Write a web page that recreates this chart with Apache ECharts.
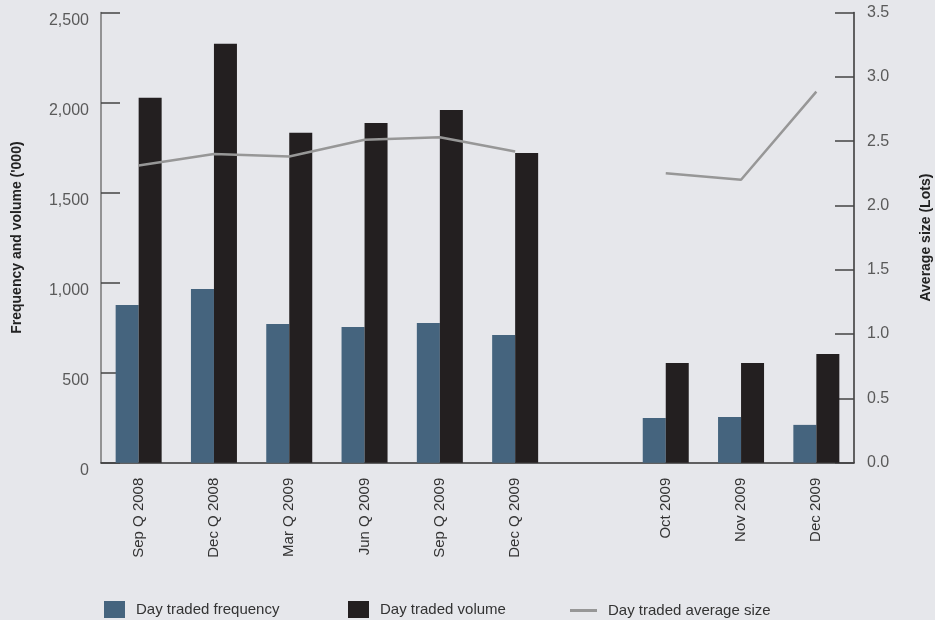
<!DOCTYPE html>
<html>
<head>
<meta charset="utf-8">
<script src="https://cdn.jsdelivr.net/npm/echarts@6/dist/echarts.min.js"></script>
<style>
  html, body { margin: 0; padding: 0; background: #e6e7eb; }
  #chart { width: 935px; height: 620px; }
</style>
</head>
<body>
<div id="chart"></div>
<script>
// Periods: six quarters, a spacer, then three months
const categories = ['Sep Q 2008', 'Dec Q 2008', 'Mar Q 2009', 'Jun Q 2009', 'Sep Q 2009', 'Dec Q 2009', '', 'Oct 2009', 'Nov 2009', 'Dec 2009'];
// Day traded frequency ('000)
const frequency = [876, 965, 770, 754, 776, 709, null, 248, 254, 210];
// Day traded volume ('000)
const volume = [2026, 2326, 1832, 1887, 1959, 1720, null, 554, 554, 604];
// Day traded average size (lots)
const avgSize = [2.31, 2.40, 2.38, 2.51, 2.53, 2.42, null, 2.25, 2.20, 2.885];

const FONT = "'Liberation Sans', Arial, sans-serif";
const chart = echarts.init(document.getElementById('chart'));

const legendBase = {
  bottom: 2,
  padding: 0,
  textStyle: { fontFamily: FONT, fontSize: 15, color: '#333', padding: [0, 0, 0, 6] },
  selectedMode: false
};

chart.setOption({
  backgroundColor: '#e6e7eb',
  animation: false,
  textStyle: { fontFamily: FONT },
  grid: { left: 101, right: 81, top: 12.5, bottom: 157.3, containLabel: false, outerBoundsMode: 'none' },
  legend: [
    Object.assign({}, legendBase, { left: 104, data: ['Day traded frequency'], icon: 'rect', itemWidth: 21, itemHeight: 17 }),
    Object.assign({}, legendBase, { left: 348, data: ['Day traded volume'], icon: 'rect', itemWidth: 21, itemHeight: 17 }),
    Object.assign({}, legendBase, { left: 570, data: ['Day traded average size'], icon: 'rect', itemWidth: 27, itemHeight: 3 })
  ],
  xAxis: {
    type: 'category',
    data: categories,
    boundaryGap: true,
    axisLine: { lineStyle: { color: '#333', width: 1.5 } },
    axisTick: { show: false },
    axisLabel: { rotate: 90, margin: 15, fontSize: 15, color: '#333', fontFamily: FONT, interval: 0 }
  },
  yAxis: [
    {
      type: 'value', min: 0, max: 2500, interval: 500, position: 'left',
      name: "Frequency and volume ('000)",
      nameLocation: 'middle', nameGap: 77, nameRotate: 90,
      nameTextStyle: { fontWeight: 'bold', fontSize: 14, color: '#222', fontFamily: FONT },
      axisLine: { show: true, lineStyle: { color: '#777', width: 1.5 } },
      axisTick: { show: true, inside: true, length: 19, lineStyle: { color: '#444', width: 1.5 } },
      axisLabel: { fontSize: 16, color: '#5a5a5a', margin: 12, fontFamily: FONT, verticalAlign: 'top',
        formatter: v => v.toLocaleString('en-US') },
      splitLine: { show: false }
    },
    {
      type: 'value', min: 0, max: 3.5, interval: 0.5, position: 'right',
      name: 'Average size (Lots)',
      nameLocation: 'middle', nameGap: 65, nameRotate: 90,
      nameTextStyle: { fontWeight: 'bold', fontSize: 14, color: '#222', fontFamily: FONT },
      axisLine: { show: true, lineStyle: { color: '#333', width: 1.5 } },
      axisTick: { show: true, inside: true, length: 19, lineStyle: { color: '#444', width: 1.5 } },
      axisLabel: { fontSize: 16, color: '#5a5a5a', margin: 13, fontFamily: FONT,
        formatter: v => v.toFixed(1) },
      splitLine: { show: false }
    }
  ],
  series: [
    {
      name: 'Day traded frequency', type: 'bar', yAxisIndex: 0,
      data: frequency, barWidth: 23, barGap: '0%',
      itemStyle: { color: '#45647e' }
    },
    {
      name: 'Day traded volume', type: 'bar', yAxisIndex: 0,
      data: volume, barWidth: 23, barGap: '0%',
      itemStyle: { color: '#231f20' }
    },
    {
      name: 'Day traded average size', type: 'line', yAxisIndex: 1,
      data: avgSize, connectNulls: false, symbol: 'none',
      lineStyle: { color: '#979797', width: 2.5 },
      itemStyle: { color: '#979797' }
    }
  ]
});
</script>
</body>
</html>
